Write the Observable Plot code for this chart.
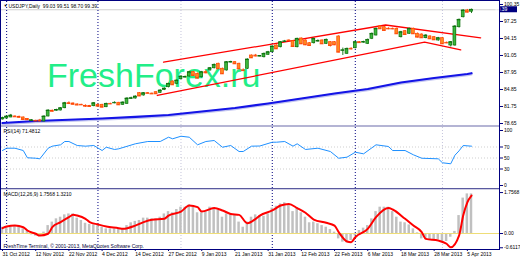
<!DOCTYPE html>
<html><head><meta charset="utf-8">
<script src="https://cdn.jsdelivr.net/npm/d3@7"></script>
<script src="https://cdn.jsdelivr.net/npm/@observablehq/plot@0.6"></script>
<style>
html,body{margin:0;padding:0;background:#fff;}
#chart{position:relative;width:520px;height:260px;overflow:hidden;background:#fff;}
#chart svg{position:absolute;left:0;max-width:none;}
</style></head><body><div id="chart"></div>
<script>
// ---------- data ----------
const titleText = "USDJPY,Daily  99.03 99.51 98.70 99.39";
const rsiTitle = "RSI(14) 71.4812";
const macdTitle = "MACD(12,26,9) 1.7568 1.3210";
const copyright = "FreshTime Terminal, \u00A9 2001-2013, MetaQuotes Software Corp.";
const watermark = "FreshForex.ru";

const open = [79.38,79.56,79.75,79.93,79.87,79.75,79.47,79.11,79.15,79.20, 79.02,79.93,80.98,81.02,81.02,81.44,82.35,82.30,82.12,82.07, 81.88,81.84,81.81,82.06,82.06,81.62,82.24,82.40,82.43,82.06, 82.24,83.18,83.21,84.18,83.76,84.18,84.10,84.36,84.25,84.76, 85.27,86.31,85.89,86.73,87.09,87.22,88.01,87.71,87.09,88.01, 88.32,88.73,89.54,88.63,88.32,89.83,89.83,89.54,88.35,88.63, 91.05,91.05,90.92,90.74,91.18,91.65,92.87,92.56,93.60,93.79, 93.66,92.56,94.15,93.79,93.29,93.29,93.66,93.79,93.18,93.48, 93.48,94.52,91.96,91.36,92.29,92.38,93.48,93.47,93.18,94.10, 94.70,96.34,96.21,95.93,95.92,95.92,94.39,95.48,95.01,95.92, 95.01,94.88,94.21,94.52,94.39,93.79,94.21,93.37,92.87,92.87, 96.21,98.03,99.26,99.03];
const close = [79.65,79.93,80.11,79.87,79.78,79.38,79.34,79.24,79.11,79.11, 79.93,81.02,80.88,81.11,81.44,82.35,82.30,82.15,82.02,82.05, 81.80,81.75,82.35,81.81,81.62,82.24,82.22,82.43,82.06,82.48, 83.21,83.26,83.57,83.67,84.18,84.15,84.05,84.07,84.67,85.03, 85.89,85.71,86.49,87.22,87.12,88.01,87.40,86.91,88.01,87.90, 88.73,89.35,88.63,87.71,89.83,89.85,89.54,88.63,88.30,90.32, 90.63,90.96,90.94,91.36,91.65,92.69,92.27,93.48,93.62,93.77, 92.69,94.10,93.18,93.00,92.87,94.10,93.68,93.18,93.91,92.87, 93.00,91.65,92.00,92.27,92.25,93.48,93.40,93.49,93.91,95.01, 95.92,95.92,95.61,95.91,95.90,95.01,95.30,94.88,95.92,95.01, 94.39,94.28,94.70,94.10,93.91,94.21,93.18,93.35,93.48,96.34, 97.56,99.26,98.95,99.39];
const high = [79.80,80.05,80.30,80.05,80.00,79.85,79.55,79.35,79.25,79.40, 80.05,81.15,81.10,81.25,81.55,82.50,82.60,82.40,82.25,82.15, 82.05,81.95,82.45,82.20,82.15,82.35,82.35,82.60,82.50,82.60, 83.35,83.45,83.70,84.30,84.30,84.30,84.20,84.45,84.80,85.15, 86.00,86.45,86.60,87.35,87.30,88.15,88.15,87.85,88.15,88.30, 88.85,89.50,89.65,88.75,89.95,90.00,89.95,89.65,88.60,90.45, 91.15,91.25,91.05,91.50,91.80,92.80,93.00,93.60,93.80,93.90, 93.75,94.20,94.25,93.90,93.40,94.20,93.90,93.90,94.05,93.60, 93.60,94.65,92.40,92.40,92.45,93.60,93.60,93.65,94.05,95.15, 96.05,96.50,96.35,96.10,96.05,96.05,95.45,95.60,96.05,96.05, 95.15,95.00,94.85,94.65,94.50,94.35,94.35,93.50,93.60,96.50, 97.70,99.40,99.45,99.51];
const low = [79.30,79.50,79.70,79.78,79.60,79.30,79.20,79.05,79.02,78.95, 78.95,79.85,80.75,80.90,80.95,81.35,82.10,82.00,81.90,81.95, 81.60,81.65,81.70,81.70,81.50,81.55,82.10,82.25,81.95,81.95, 82.15,83.05,83.10,83.55,83.65,84.05,83.95,83.95,84.15,84.65, 85.15,85.60,85.75,86.60,86.95,87.10,87.30,86.80,86.95,87.70, 88.20,88.60,88.50,87.60,88.20,89.70,89.45,88.50,88.10,88.50, 90.50,90.80,90.80,90.60,91.05,91.55,92.15,92.45,93.45,93.65, 92.55,92.45,93.05,92.85,92.75,93.15,93.50,93.05,93.05,92.60, 92.85,91.55,91.05,91.25,92.05,92.25,93.30,93.30,93.05,93.95, 94.60,95.80,95.50,95.75,95.75,94.90,94.25,94.75,94.90,94.90, 94.25,94.15,94.10,93.95,93.80,93.65,93.05,93.20,92.60,92.75, 96.05,97.90,98.80,98.70];

// moving average (blue), read at bar indices
const maIdx = [0,8,16,24,32,40,48,56,64,72,80,88,96,104,112,113];
const maVal = [78.74,79.11,79.33,79.56,79.84,80.20,80.84,81.48,82.30,83.21,84.12,84.94,86.13,86.95,87.68,87.82];

// red channel lines
const upIdx = [38.8, 92.3, 115.2];
const upVal = [89.83, 96.61, 94.28];
const loIdx = [37.3, 101.7, 110.4];
const loVal = [83.76, 93.48, 92.09];

// RSI(14)
const rsiIdx = [0,1,3,5,6,8,9,11,12,14,15,16,18,20,22,24,25,27,28,32,35,38,40,41,43,45,47,49,51,53,55,57,58,60,62,65,66,68,70,71,73,76,79,81,83,85,87,90,93,94,97,99,101,105,106,108,109,110,111,113];
const rsiVal = [63.6,67.8,67.8,63.6,50.4,49.6,48.5,67.8,71.5,74,80,80,72.7,71.5,72.7,63.6,69.6,65.5,66.7,75.8,80,80,87.8,84.9,89.6,87.8,74,80,81.8,69.6,72.7,61.8,61.8,71.5,71.8,78.7,78.7,80,71.5,75.8,65.5,67.8,61.8,49.6,51.5,60.5,57.6,74,70.9,63.6,63.6,55.8,49.6,48.5,41.3,39.5,55,63,72.7,71.5];

// MACD histogram (one per bar) and signal line
const histVal = [0.27,0.30,0.34,0.34,0.30,0.20,0.09,-0.06,-0.11,-0.13, 0.06,0.34,0.49,0.63,0.70,0.80,0.84,0.84,0.66,0.56, 0.44,0.39,0.37,0.34,0.27,0.20,0.20,0.20,0.17,0.20, 0.34,0.46,0.52,0.56,0.66,0.66,0.63,0.63,0.70,0.84, 0.94,0.89,1.03,1.13,1.13,1.23,1.13,0.89,0.89,0.94, 1.13,1.09,0.99,0.70,0.84,0.84,0.77,0.49,0.27,0.49, 0.70,0.80,0.77,0.74,0.84,1.09,1.17,1.27,1.32,1.20, 0.94,1.09,0.89,0.70,0.46,0.49,0.42,0.34,0.27,0.17, 0.06,-0.23,-0.37,-0.40,-0.30,-0.09,0.13,0.23,0.34,0.63, 0.94,1.13,1.13,1.13,0.94,0.70,0.49,0.46,0.37,0.20, 0.03,-0.23,-0.26,-0.26,-0.30,-0.26,-0.34,-0.34,-0.16,0.09, 0.77,1.52,1.70,1.70];
const sigIdx = [0,1,3,5,6,8,9,11,12,14,16,17,18,20,21,23,25,28,29,32,34,36,39,40,43,45,47,48,51,53,55,57,59,61,62,65,67,69,71,73,75,78,80,81,83,84,85,88,90,93,94,97,99,101,102,105,107,108,110,111,112,113];
const sigVal = [0.23,0.30,0.34,0.27,0.13,-0.01,-0.09,-0.01,0.27,0.49,0.70,0.80,0.77,0.63,0.49,0.39,0.30,0.23,0.20,0.34,0.49,0.59,0.63,0.77,0.94,1.20,1.13,0.94,1.09,0.99,0.84,0.80,0.44,0.63,0.77,0.99,1.20,1.27,1.09,0.89,0.60,0.46,0.34,0.06,-0.34,-0.37,-0.16,0.20,0.70,1.09,1.03,0.63,0.34,0.06,-0.23,-0.30,-0.44,-0.59,-0.09,0.77,1.34,1.63];

// axes / labels
const dateIdx = [0,8,16,24,32,40,48,56,64,72,80,88,96,104,112];
const dateLabels = ["31 Oct 2012","12 Nov 2012","22 Nov 2012","4 Dec 2012","14 Dec 2012","27 Dec 2012","9 Jan 2013","21 Jan 2013","31 Jan 2013","12 Feb 2013","22 Feb 2013","6 Mar 2013","18 Mar 2013","28 Mar 2013","5 Apr 2013"];
const priceTicks = [100.35,97.25,94.15,91.05,87.95,84.85,81.75,78.65];
const rsiTicks = [100,70,50,30,0];
const rsiLevels = [70,50,30];
const macdTicks = [1.7568,0,-0.6117];
const macdTickLabels = ["1.7568","0.00","-0.6117"];
const markerBars = [1,23,65,85];
const gridBars = [43,106];

// ---------- build ----------
const FONT = "Liberation Sans, Arial, sans-serif";
const NAVY = "#000080";
const bars = open.map((o,i)=>({i, o, c: close[i], h: high[i], l: low[i], up: close[i] >= o}));
const ma = maIdx.map((i,k)=>({i, v: maVal[k]}));
const upper = upIdx.map((i,k)=>({i, v: upVal[k]}));
const lower = loIdx.map((i,k)=>({i, v: loVal[k]}));
const rsi = rsiIdx.map((i,k)=>({i, v: rsiVal[k]}));
const hist = histVal.map((v,i)=>({i, v}));
const sig = sigIdx.map((i,k)=>({i, v: sigVal[k]}));
const lastClose = close[close.length-1];

const X = {domain:[0,113], range:[2,471], axis:null, label:null};
const common = {width:520, marginLeft:1, marginRight:21, style:{fontSize:"5px", fontFamily:FONT, background:"transparent", overflow:"visible", color:"#000"}};
const bullFill = "#3cb83c", bullStroke = "#0b6e0b", bearFill = "#ff8a1e", bearStroke = "#ff4400";
const axisText = {stroke:NAVY, fill:"#000", fontSize:5, fontFamily:FONT, tickSize:3, tickPadding:1.5, anchor:"right", label:null};

const main = Plot.plot({
  ...common, height:126, marginTop:1, marginBottom:1,
  x: X,
  y: {domain:[78.65,100.53], range:[123,3], axis:null, label:null},
  marks: [
    Plot.ruleY([lastClose], {stroke:"#d0d0d0", strokeWidth:1}),
    Plot.ruleX(gridBars, {stroke:"#c4c4dc", strokeDasharray:"1,2"}),
    Plot.ruleX(markerBars, {stroke:NAVY, strokeDasharray:"1,2"}),
    Plot.text([watermark], {frameAnchor:"top-left", dx:45.5, dy:85.7, lineAnchor:"bottom", textAnchor:"start", fontSize:34, fontFamily:FONT, fill:"#22ee88"}),
    Plot.line(ma, {x:"i", y:"v", stroke:"#c4c6f0", strokeWidth:2.6, dy:0.9}),
    Plot.line(ma, {x:"i", y:"v", stroke:"#1414e6", strokeWidth:2.2}),
    Plot.line(upper, {x:"i", y:"v", stroke:"#ff0000", strokeWidth:1.3}),
    Plot.line(lower, {x:"i", y:"v", stroke:"#ff0000", strokeWidth:1.3}),
    Plot.ruleX(bars, {x:"i", y1:"l", y2:"h", stroke: d=>d.up?bullStroke:bearStroke, strokeWidth:0.9}),
    Plot.rect(bars, {x1: d=>d.i-0.34, x2: d=>d.i+0.34, y1:"o", y2:"c", fill: d=>d.up?bullFill:bearFill, stroke: d=>d.up?bullStroke:bearStroke, strokeWidth:0.7}),
    Plot.ruleY(bars, {x1: d=>d.i-0.45, x2: d=>d.i+0.45, y:"c", stroke: d=>d.up?bullStroke:bearStroke, strokeWidth:0.9}),
    Plot.axisY(priceTicks, {...axisText, tickFormat: d=>d.toFixed(2)}),
    Plot.text(["\u25BC"], {frameAnchor:"top-left", dx:2, dy:3, lineAnchor:"top", fontSize:4, fill:"#000", textAnchor:"start"}),
    Plot.text([titleText], {frameAnchor:"top-left", dx:7, dy:2.5, lineAnchor:"top", textAnchor:"start", fontSize:5, fontFamily:FONT, fill:"#000"})
  ]
});

const rsiPlot = Plot.plot({
  ...common, height:63, marginTop:1, marginBottom:1,
  x: X,
  y: {domain:[0,100], range:[59,4], axis:null, label:null},
  marks: [
    Plot.ruleY(rsiLevels, {stroke:"#cfcfcf", strokeDasharray:"1,2"}),
    Plot.ruleX(gridBars, {stroke:"#c4c4dc", strokeDasharray:"1,2"}),
    Plot.ruleX(markerBars, {stroke:NAVY, strokeDasharray:"1,2"}),
    Plot.line(rsi, {x:"i", y:"v", stroke:"#1e90ff", strokeWidth:1}),
    Plot.axisY(rsiTicks, {...axisText, tickFormat: d=>String(d)}),
    Plot.text([rsiTitle], {frameAnchor:"top-left", dx:2, dy:2, lineAnchor:"top", textAnchor:"start", fontSize:5, fontFamily:FONT, fill:"#000"})
  ]
});

const macdPlot = Plot.plot({
  ...common, height:71, marginTop:1, marginBottom:11,
  x: X,
  y: {domain:[-0.6,1.76], range:[58,3], axis:null, label:null},
  marks: [
    Plot.ruleX(gridBars, {stroke:"#c4c4dc", strokeDasharray:"1,2"}),
    Plot.ruleX(markerBars, {stroke:NAVY, strokeDasharray:"1,2"}),
    Plot.rect(hist, {x1: d=>d.i-0.3, x2: d=>d.i+0.3, y1: 0, y2:"v", fill:"#c0c0c0"}),
    Plot.ruleY([0], {stroke:"#eedd77", strokeWidth:1.2}),
    Plot.line(sig, {x:"i", y:"v", stroke:"#ff0000", strokeWidth:2, curve:"monotone-x"}),
    Plot.axisY(macdTicks, {...axisText, tickFormat: d=>macdTickLabels[macdTicks.indexOf(d)]}),
    Plot.axisX(dateIdx, {anchor:"bottom", label:null, tickSize:2, tickPadding:1, textAnchor:"start", tickFormat: d=>dateLabels[dateIdx.indexOf(d)], stroke:NAVY, fill:"#000", fontSize:5, fontFamily:FONT}),
    Plot.text([macdTitle], {frameAnchor:"top-left", dx:2, dy:2, lineAnchor:"top", textAnchor:"start", fontSize:5, fontFamily:FONT, fill:"#000"}),
    Plot.text([copyright], {frameAnchor:"bottom-left", dx:2, dy:-1.5, lineAnchor:"bottom", textAnchor:"start", fontSize:5, fontFamily:FONT, fill:"#000033"})
  ]
});

const root = document.getElementById("chart");
main.style.top = "0px"; rsiPlot.style.top = "126px"; macdPlot.style.top = "189px";
root.append(main, rsiPlot, macdPlot);

// current price badge on the price axis (placed through the plot's own y scale)
const yb = main.scale("y").apply(lastClose);
const ms = d3.select(main);
ms.append("rect").attr("x",500).attr("y",yb-3).attr("width",17).attr("height",6).attr("fill",NAVY);
ms.append("text").attr("x",501).attr("y",yb).attr("dy","0.36em").attr("fill","#fff")
  .attr("font-size",5).attr("font-family",FONT).text(lastClose.toFixed(2));

// window frame / panel separators
const deco = d3.select(root).append("svg").attr("width",520).attr("height",260)
  .style("top","0px").style("pointer-events","none");
deco.append("rect").attr("x",0).attr("y",125).attr("width",499).attr("height",2).attr("fill","#b4b4d4");
deco.append("line").attr("x1",0).attr("x2",499).attr("y1",188.5).attr("y2",188.5).attr("stroke","#5a5aa0");
deco.append("line").attr("x1",0).attr("x2",499).attr("y1",189.5).attr("y2",189.5).attr("stroke","#d0d0e4");
deco.append("line").attr("x1",0.5).attr("x2",0.5).attr("y1",0).attr("y2",250).attr("stroke",NAVY);
deco.append("line").attr("x1",0).attr("x2",500).attr("y1",0.5).attr("y2",0.5).attr("stroke",NAVY);
deco.append("line").attr("x1",499.5).attr("x2",499.5).attr("y1",0).attr("y2",250).attr("stroke",NAVY);
deco.append("line").attr("x1",0).attr("x2",500).attr("y1",249.5).attr("y2",249.5).attr("stroke",NAVY);
</script></body></html>
